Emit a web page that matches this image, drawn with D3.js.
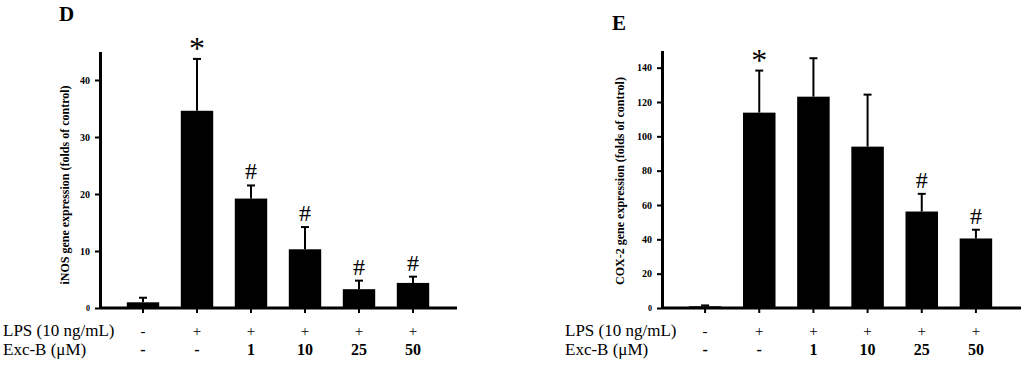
<!DOCTYPE html>
<html>
<head>
<meta charset="utf-8">
<script src="https://cdn.jsdelivr.net/npm/d3@7"></script>
<style>
  body { margin: 0; background: #fff; }
  svg { display: block; font-family: "Liberation Serif", "Times New Roman", serif; }
</style>
</head>
<body>
<svg id="chart" width="1024" height="366"></svg>
<script>
// groups along the x axis, and the two label rows under it
const groups = ["ctrl", "lps", "1", "10", "25", "50"];
const lpsRow = ["-", "+", "+", "+", "+", "+"];
const excRow = ["-", "-", "1", "10", "25", "50"];

// panel D: iNOS
const inosMean = [1.0, 34.6, 19.2, 10.3, 3.3, 4.4];
const inosErr = [0.8, 9.1, 2.3, 3.9, 1.5, 1.1];
const inosMarks = ["", "*", "#", "#", "#", "#"];
const inosTicks = [0, 10, 20, 30, 40];

// panel E: COX-2
const coxMean = [1.0, 113.8, 123.1, 94.0, 56.2, 40.5];
const coxErr = [0.5, 24.5, 22.4, 30.3, 10.3, 5.1];
const coxMarks = ["", "*", "", "", "#", "#"];
const coxTicks = [0, 20, 40, 60, 80, 100, 120, 140];

const svg = d3.select("#chart");

function drawPanel(p) {
  const g = svg.append("g");

  const x = d3.scaleBand().domain(groups)
    .range([p.x0, p.x1])
    .paddingInner(0.4)
    .paddingOuter(0.2);
  const y = d3.scaleLinear().domain([0, p.yMax]).range([308, p.yTop]);

  const rows = groups.map((d, i) => ({ key: d, mean: p.mean[i], err: p.err[i], mark: p.marks[i] }));

  // bars
  g.selectAll(".bar").data(rows).enter().append("rect")
    .attr("class", "bar")
    .attr("x", d => x(d.key))
    .attr("width", x.bandwidth())
    .attr("y", d => y(d.mean))
    .attr("height", d => y(0) - y(d.mean))
    .attr("fill", "#000");

  // error bars (upper only)
  g.selectAll(".err").data(rows).enter().append("line")
    .attr("x1", d => x(d.key) + x.bandwidth() / 2)
    .attr("x2", d => x(d.key) + x.bandwidth() / 2)
    .attr("y1", d => y(d.mean))
    .attr("y2", d => y(d.mean + d.err))
    .attr("stroke", "#000").attr("stroke-width", 2);
  g.selectAll(".cap").data(rows).enter().append("line")
    .attr("x1", d => x(d.key) + x.bandwidth() / 2 - 4)
    .attr("x2", d => x(d.key) + x.bandwidth() / 2 + 4)
    .attr("y1", d => y(d.mean + d.err))
    .attr("y2", d => y(d.mean + d.err))
    .attr("stroke", "#000").attr("stroke-width", 2);

  // significance marks
  g.selectAll(".mark").data(rows.filter(d => d.mark)).enter().append("text")
    .attr("x", d => x(d.key) + x.bandwidth() / 2)
    .attr("y", d => y(d.mean + d.err) - (d.mark === "*" ? 0 : 6))
    .attr("text-anchor", "middle")
    .attr("font-size", d => d.mark === "*" ? 32 : 24)
    .text(d => d.mark);

  // y axis
  const yAxis = g.append("g")
    .attr("transform", "translate(" + p.axisX + ",0)")
    .call(d3.axisLeft(y).tickValues(p.ticks).tickSize(5).tickSizeOuter(0).tickPadding(5));
  yAxis.select(".domain").attr("stroke-width", 3);
  yAxis.selectAll(".tick line").attr("stroke-width", 2);
  yAxis.selectAll(".tick text")
    .attr("font-family", "Liberation Serif, serif")
    .attr("font-weight", "bold")
    .attr("font-size", d => d === 0 ? 8 : 10);

  // baseline + small ticks under each bar
  g.append("line")
    .attr("x1", p.axisX).attr("x2", p.xEnd)
    .attr("y1", y(0)).attr("y2", y(0))
    .attr("stroke", "#000").attr("stroke-width", 3);
  const xAxis = g.append("g")
    .attr("transform", "translate(0," + y(0) + ")")
    .call(d3.axisBottom(x).tickSize(5).tickSizeOuter(0).tickFormat(""));
  xAxis.select(".domain").remove();
  xAxis.selectAll(".tick line").attr("stroke-width", 2);

  // y label
  g.append("text")
    .attr("transform", "translate(" + p.labelX + "," + p.labelY + ") rotate(-90)")
    .attr("text-anchor", "middle")
    .attr("font-size", 12)
    .attr("font-weight", "bold")
    .text(p.yLabel);

  // panel letter
  g.append("text")
    .attr("x", p.letterX).attr("y", p.letterY)
    .attr("font-size", 21)
    .attr("font-weight", "bold")
    .text(p.letter);

  // treatment rows
  g.append("text").attr("x", p.rowX).attr("y", 336).attr("font-size", 17).text("LPS (10 ng/mL)");
  g.append("text").attr("x", p.rowX).attr("y", 355).attr("font-size", 17).text("Exc-B (\u03bcM)");
  g.selectAll(".lps").data(lpsRow).enter().append("text")
    .attr("x", (d, i) => x(groups[i]) + x.bandwidth() / 2)
    .attr("y", 336)
    .attr("text-anchor", "middle")
    .attr("font-size", 15)
    .text(d => d);
  g.selectAll(".exc").data(excRow).enter().append("text")
    .attr("x", (d, i) => x(groups[i]) + x.bandwidth() / 2)
    .attr("y", 355)
    .attr("text-anchor", "middle")
    .attr("font-size", 16)
    .attr("font-weight", "bold")
    .text(d => d);
}

drawPanel({
  mean: inosMean, err: inosErr, marks: inosMarks, ticks: inosTicks,
  yMax: 45, yTop: 51.5, x0: 116, x1: 440, axisX: 100, xEnd: 457,
  yLabel: "iNOS gene expression (folds of control)", labelX: 69, labelY: 185,
  letter: "D", letterX: 59, letterY: 21, rowX: 3
});

drawPanel({
  mean: coxMean, err: coxErr, marks: coxMarks, ticks: coxTicks,
  yMax: 150, yTop: 50.5, x0: 678, x1: 1003, axisX: 662, xEnd: 1021,
  yLabel: "COX-2 gene expression (folds of control)", labelX: 624, labelY: 181,
  letter: "E", letterX: 612, letterY: 30, rowX: 565
});
</script>
</body>
</html>
